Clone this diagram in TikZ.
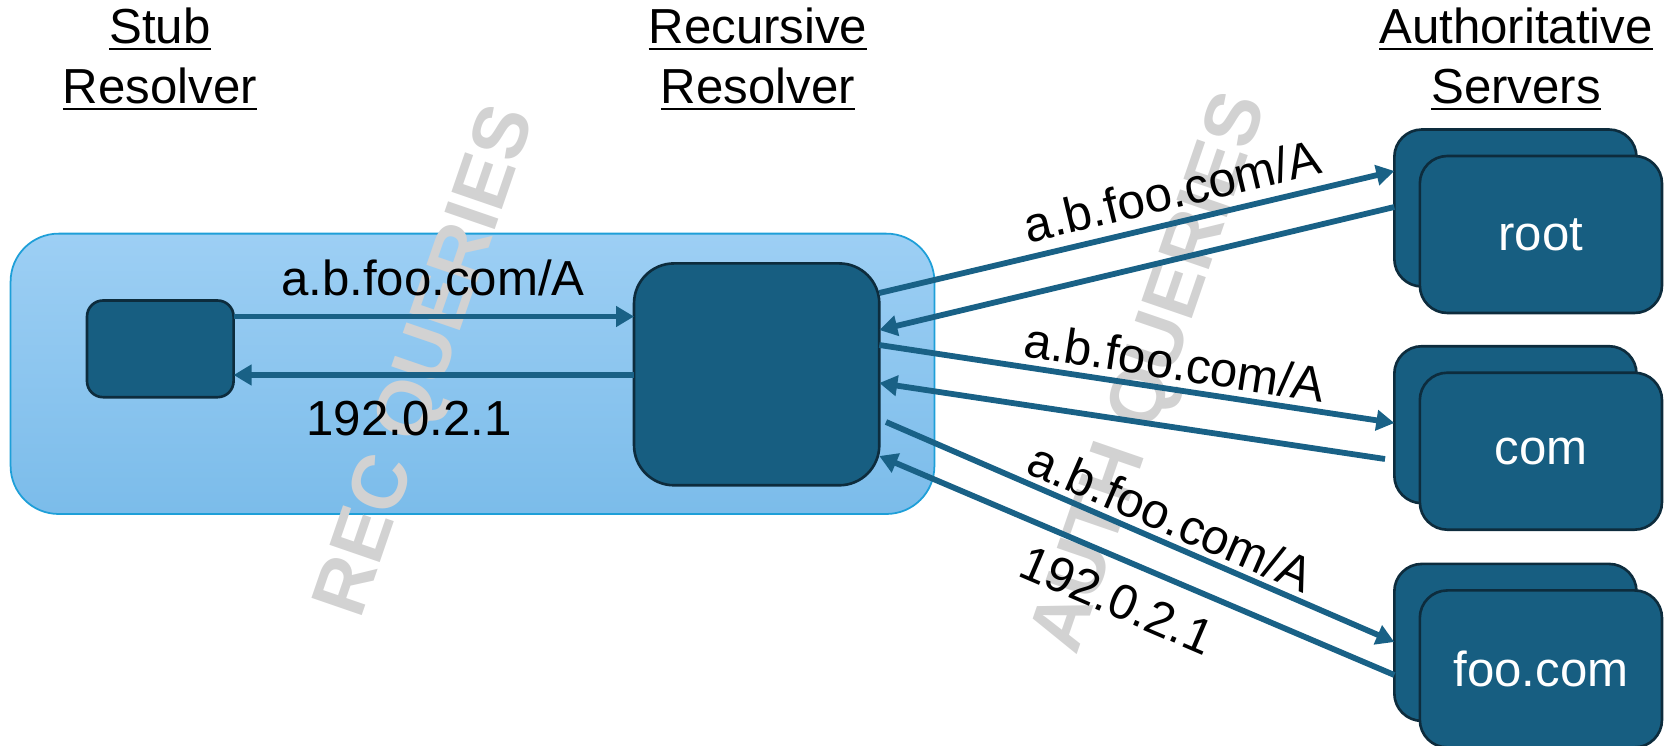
\documentclass[tikz,border=0pt]{standalone}
\usepackage{fontspec}
\setmainfont{Liberation Sans}
\usetikzlibrary{arrows.meta}

\definecolor{boxfill}{HTML}{175E81}
\definecolor{boxline}{HTML}{0D2C3D}
\definecolor{arrowc}{HTML}{196186}
\definecolor{paneltop}{HTML}{9DCFF4}
\definecolor{panelbot}{HTML}{7BBCEA}
\definecolor{panelline}{HTML}{1E9FD8}
\definecolor{markgrey}{HTML}{D2D2D2}

% underlined heading word: rule a little below the baseline
\newcommand{\ulword}[1]{\setbox0=\hbox{#1}\leavevmode\rlap{\vrule width\wd0 height -2.2pt depth 3.7pt}\box0}

\tikzset{
  panel/.style={draw=panelline, line width=1pt, top color=paneltop, bottom color=panelbot,
    rounded corners=0.96cm, inner sep=0pt, outer sep=0pt},
  dark/.style={draw=boxline, fill=boxfill, line width=1.5pt, inner sep=0pt, outer sep=0pt},
  srv/.style={dark, rounded corners=0.55cm, minimum width=4.844cm, minimum height=3.14cm,
    text=white, font=\fontsize{28}{34}\selectfont},
  msg/.style={draw=arrowc, line width=3.3pt, -{Triangle[length=0.36cm,width=0.4cm]}},
  lbl/.style={font=\fontsize{28}{34}\selectfont, inner sep=0pt},
  wm/.style={text=markgrey, font=\fontsize{44}{52}\selectfont\bfseries, inner sep=0pt},
  hdr/.style={anchor=base, font=\fontsize{28}{34}\selectfont, inner sep=0pt},
}

\begin{document}
\begin{tikzpicture}[x=0.02cm, y=-0.02cm]
\useasboundingbox (0,0) rectangle (1665,746);

% resolver panel
\node[panel, minimum width=18.48cm, minimum height=5.608cm] (panel) at (472.5,373.8) {};

% background captions
\node[wm, rotate=71] (recmark) at (429,362) {REC QUERIES};
\node[wm, rotate=71] (authmark) at (1153,374) {AUTH QUERIES};

% headings
\node[hdr] (h1a) at (160,44) {\ulword{Stub}};
\node[hdr] (h1b) at (160,104) {\ulword{Resolver}};
\node[hdr] (h2a) at (758,44) {\ulword{Recursive}};
\node[hdr] (h2b) at (758,104) {\ulword{Resolver}};
\node[hdr] (h3a) at (1516,44) {\ulword{Authoritative}};
\node[hdr] (h3b) at (1516,104) {\ulword{Servers}};

% resolvers
\node[dark, rounded corners=0.32cm, minimum width=2.932cm, minimum height=1.934cm] (stub) at (160.3,348.85) {};
\node[dark, rounded corners=0.8cm, minimum width=4.906cm, minimum height=4.438cm] (rec) at (756.65,374.35) {};

% authoritative servers (each a stack of two)
\node[srv] (rootb) at (1515.4,208) {};
\node[srv] (root) at (1540.9,234.5) {root};
\node[srv] (comb) at (1515.4,424.7) {};
\node[srv] (com) at (1540.9,451.2) {com};
\node[srv] (foob) at (1515.4,642.4) {};
\node[srv] (foo) at (1540.9,668.9) {foo.com};

% stub <-> recursive
\draw[msg] (stub.east |- 0,316.5) -- (rec.west |- 0,316.5);
\draw[msg] (rec.west |- 0,375) -- (stub.east |- 0,375);
\node[lbl, anchor=base] (lq0) at (433,296) {a.b.foo.com/A};
\node[lbl, anchor=base] (la0) at (409,435) {192.0.2.1};

% recursive <-> authoritative
\coordinate (comout) at (1385,459);
\coordinate (recfoo) at (886,422);
\draw[msg] (rec.east |- 0,293) -- (rootb.west |- 0,171);
\draw[msg] (rootb.west |- 0,207) -- (rec.east |- 0,330);
\draw[msg] (rec.east |- 0,345) -- (comb.west |- 0,423);
\draw[msg] (comout) -- (rec.east |- 0,383);
\draw[msg] (recfoo) -- (foob.west |- 0,642);
\draw[msg] (foob.west |- 0,675) -- (rec.east |- 0,456);

\node[lbl, rotate=13.4] (lq1) at (1172,191) {a.b.foo.com/A};
\node[lbl, rotate=-8.7] (lq2) at (1175,362) {a.b.foo.com/A};
\node[lbl, rotate=-23.5] (lq3) at (1171,517) {a.b.foo.com/A};
\node[lbl, rotate=-23.2] (la3) at (1117,600) {192.0.2.1};
\end{tikzpicture}
\end{document}
